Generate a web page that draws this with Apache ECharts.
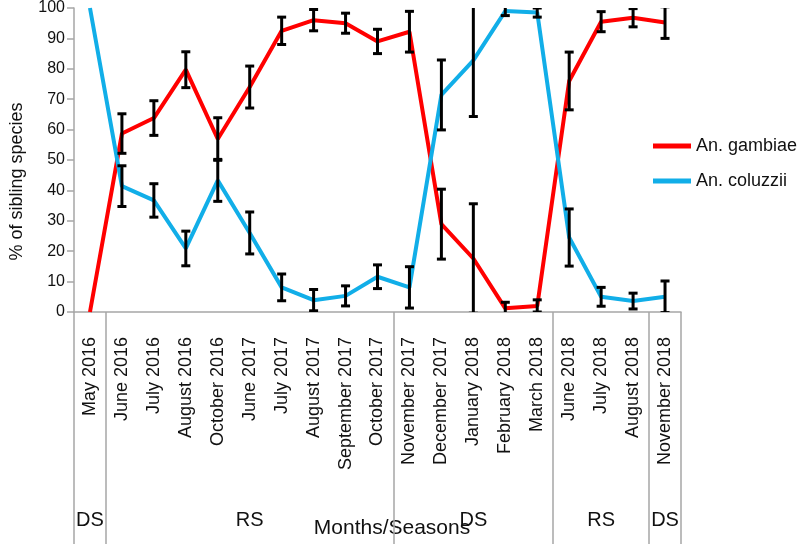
<!DOCTYPE html>
<html lang="en">
<head>
    <meta charset="UTF-8">
    <title></title>
    <style>
        * {
            margin: 0;
            padding: 0;
            box-sizing: border-box;
        }

        html, body {
            width: 797px;
            height: 544px;
            background: #ffffff;
            overflow: hidden;
        }

        #chart {
            width: 797px;
            height: 544px;
        }
    </style>
    <script type="text/javascript" src="https://cdn.jsdelivr.net/npm/echarts@6/dist/echarts.min.js"></script>
</head>
<body>
<div id="chart"></div>
<script type="text/javascript">
    var months = ['May 2016', 'June 2016', 'July 2016', 'August 2016', 'October 2016', 'June 2017',
        'July 2017', 'August 2017', 'September 2017', 'October 2017', 'November 2017', 'December 2017',
        'January 2018', 'February 2018', 'March 2018', 'June 2018', 'July 2018', 'August 2018', 'November 2018']
    var seasonNames = ['DS', 'RS', 'DS', 'RS', 'DS']
    var seasonLengths = [1, 9, 5, 3, 1]

    var gambiae = [0, 58.7, 63.8, 79.7, 56.9, 74, 92.5, 96, 95, 89, 92.2, 28.9, 17.6, 1.2, 2, 76, 95.5, 96.8, 95.2]
    var gambiaeErr = [null, 6.5, 5.7, 5.9, 7, 6.9, 4.5, 3.5, 3.3, 4, 6.7, 11.5, 18, 2, 2, 9.5, 3.3, 3, 5.2]
    var coluzzii = [100, 41.4, 36.7, 20.9, 43.3, 26, 8.1, 3.9, 5.3, 11.6, 8.1, 71.4, 82.8, 99, 98.5, 24.5, 5, 3.6, 5]
    var coluzziiErr = [null, 6.7, 5.5, 5.7, 6.9, 6.9, 4.4, 3.5, 3.3, 3.9, 6.8, 11.5, 18.5, 1.5, 1.5, 9.4, 3.1, 2.6, 5.2]

    var yTicks = [0, 10, 20, 30, 40, 50, 60, 70, 80, 90, 100]

    var font = 'Liberation Sans, Arial, sans-serif'
    var axisGray = '#a6a6a6'

    // season row: one label in the middle of each season, long tick at each season start
    var seasonRow = []
    var seasonStarts = {}
    var pos = 0
    seasonNames.forEach(function (name, i) {
        var len = seasonLengths[i]
        seasonStarts[pos] = true
        for (var k = 0; k < len; k++) {
            seasonRow.push(k === Math.floor(len / 2) ? name : '')
        }
        pos += len
    })

    function errData(values, errs) {
        var out = []
        values.forEach(function (v, i) {
            if (errs[i] !== null) {
                out.push([i, v - errs[i], v + errs[i]])
            }
        })
        return out
    }

    function renderErr(params, api) {
        var x = api.value(0)
        var top = api.coord([x, api.value(2)])
        var bot = api.coord([x, api.value(1)])
        var w = 4.5
        var st = {stroke: '#000', lineWidth: 3}
        return {
            type: 'group',
            children: [
                {type: 'line', shape: {x1: top[0], y1: top[1], x2: bot[0], y2: bot[1]}, style: st},
                {type: 'line', shape: {x1: top[0] - w, y1: top[1], x2: top[0] + w, y2: top[1]}, style: st},
                {type: 'line', shape: {x1: bot[0] - w, y1: bot[1], x2: bot[0] + w, y2: bot[1]}, style: st}
            ]
        }
    }

    var myChart = echarts.init(document.getElementById('chart'))
    var option = {
        animation: false,
        textStyle: {fontFamily: font},
        grid: {left: 67, right: 116, top: 7, bottom: 232},
        legend: {
            orient: 'vertical',
            left: 648,
            top: 132,
            itemWidth: 38,
            itemHeight: 5,
            itemGap: 17,
            icon: 'rect',
            textStyle: {fontSize: 18, color: '#111', fontFamily: font},
            data: ['An. gambiae', 'An. coluzzii']
        },
        xAxis: [
            {
                type: 'category',
                data: months,
                position: 'bottom',
                boundaryGap: true,
                axisLine: {lineStyle: {color: axisGray, width: 1.5}},
                axisTick: {interval: 0, length: 176, lineStyle: {color: axisGray, width: 1.5}},
                axisLabel: {
                    interval: 0, rotate: 90, margin: 25,
                    fontSize: 18, color: '#111', fontFamily: font
                },
                name: 'Months/Seasons',
                nameLocation: 'middle',
                nameGap: 206,
                nameTextStyle: {fontSize: 21, color: '#111', fontFamily: font, padding: [0, 0, 0, 29]}
            },
            {
                type: 'category',
                data: seasonRow,
                position: 'bottom',
                boundaryGap: true,
                axisLine: {show: false},
                axisTick: {
                    show: true,
                    length: 232,
                    interval: function (index) {
                        return !!seasonStarts[index]
                    },
                    lineStyle: {color: axisGray, width: 1.5}
                },
                axisLabel: {interval: 0, margin: 198, fontSize: 20, color: '#111', fontFamily: font}
            }
        ],
        yAxis: {
            type: 'value',
            min: yTicks[0],
            max: yTicks[yTicks.length - 1],
            interval: 10,
            axisLine: {show: true, lineStyle: {color: axisGray, width: 1.5}},
            axisTick: {show: true, length: 7, lineStyle: {color: axisGray, width: 1.5}},
            splitLine: {show: false},
            axisLabel: {fontSize: 16, color: '#111', margin: 9, fontFamily: font},
            name: '% of sibling species',
            nameLocation: 'middle',
            nameGap: 48,
            nameTextStyle: {fontSize: 18, color: '#111', fontFamily: font, padding: [0, 43, 0, 0]}
        },
        series: [
            {
                name: 'An. gambiae',
                type: 'line',
                data: gambiae,
                symbol: 'none',
                color: '#ff0000',
                lineStyle: {width: 4, color: '#ff0000'},
                z: 2
            },
            {
                name: 'An. coluzzii',
                type: 'line',
                data: coluzzii,
                symbol: 'none',
                color: '#11aee8',
                lineStyle: {width: 4, color: '#11aee8'},
                z: 2
            },
            {
                type: 'custom',
                renderItem: renderErr,
                data: errData(gambiae, gambiaeErr),
                encode: {x: 0, y: [1, 2]},
                clip: true,
                z: 5
            },
            {
                type: 'custom',
                renderItem: renderErr,
                data: errData(coluzzii, coluzziiErr),
                encode: {x: 0, y: [1, 2]},
                clip: true,
                z: 5
            }
        ]
    }
    myChart.setOption(option)
</script>
</body>
</html>
